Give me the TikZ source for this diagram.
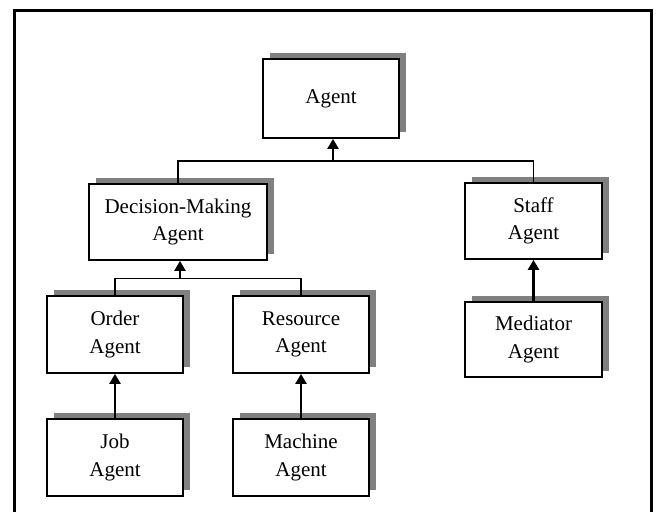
\documentclass[tikz,border=0pt]{standalone}
\usepackage{fontspec}
\setmainfont{Liberation Serif}
\usetikzlibrary{arrows.meta,shadows}
\begin{document}
\begin{tikzpicture}[x=1pt,y=-1pt,
  agentbox/.style={draw=black, line width=1.8pt, fill=white, inner sep=0pt,
    align=center, font=\fontsize{21}{27.5}\selectfont,
    drop shadow={shadow xshift=7pt, shadow yshift=6pt, fill=black!50, opacity=1}},
  tree/.style={line width=1.5pt},
  isa/.style={line width=2.8pt, -{Triangle[length=10pt,width=11pt]}}]
\useasboundingbox (0,0) rectangle (656,512);
% outer frame, open at the bottom
\draw[line width=3pt] (14.5,512) -- (14.5,10.5) -- (651,10.5) -- (651,512);

% class boxes
\node[agentbox, minimum width=136pt, minimum height=79pt] (agent) at (331,98.5) {Agent};
\node[agentbox, minimum width=178pt, minimum height=76pt] (dm) at (178,222) {Decision-Making\\Agent};
\node[agentbox, minimum width=137pt, minimum height=76pt] (staff) at (533.5,221) {Staff\\Agent};
\node[agentbox, minimum width=136pt, minimum height=77pt] (order) at (115,334.5) {Order\\Agent};
\node[agentbox, minimum width=136pt, minimum height=77pt] (resource) at (301,334.5) {Resource\\Agent};
\node[agentbox, minimum width=136pt, minimum height=77pt] (job) at (115,457.5) {Job\\Agent};
\node[agentbox, minimum width=136pt, minimum height=77pt] (machine) at (301,457.5) {Machine\\Agent};
\node[agentbox, minimum width=137pt, minimum height=75pt] (mediator) at (533.5,339.5) {Mediator\\Agent};

% junction points of the generalisation trees
\coordinate (j1) at (333,161);
\coordinate (j2) at (180,278.5);

\draw[tree] (dm.north) |- (j1) -| (staff.north);
\draw[isa] (j1) -- (agent.south -| j1);
\draw[tree] (order.north) |- (j2) -| (resource.north);
\draw[isa] (j2) -- (dm.south -| j2);

\draw[isa] (job.north) -- (order.south);
\draw[isa] (machine.north) -- (resource.south);
\draw[isa] (mediator.north) -- (staff.south);
\end{tikzpicture}
\end{document}
